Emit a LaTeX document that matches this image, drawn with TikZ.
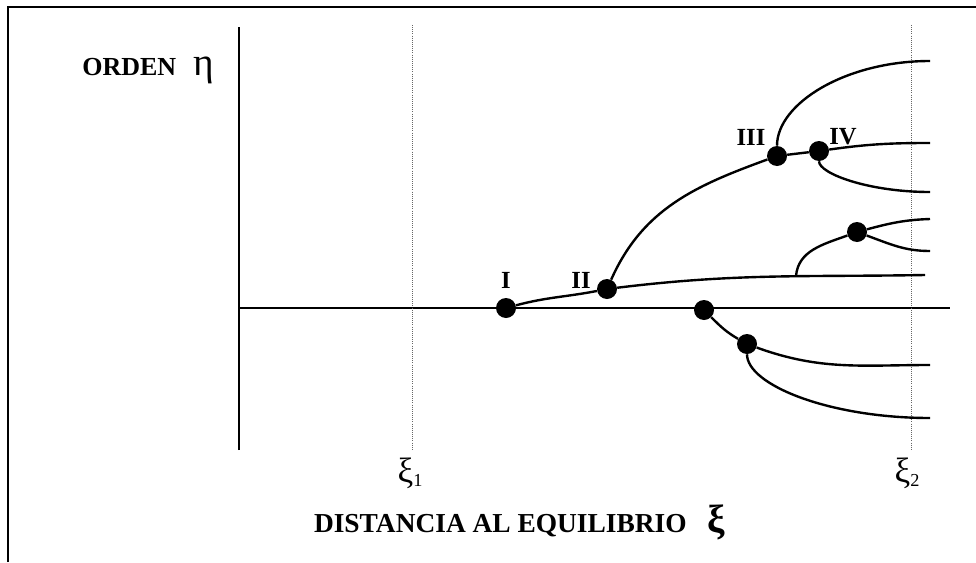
\documentclass[tikz,border=0pt]{standalone}
\usepackage{fontspec}
\setmainfont{Liberation Serif}
\begin{document}
\begin{tikzpicture}[
    dot/.style={circle,fill=black,inner sep=0pt,minimum size=0.5cm},
    branch/.style={line width=1.7pt},
    guide/.style={densely dotted,black!60,line width=0.5pt},
    lbl/.style={font=\bfseries\fontsize{17.5}{19}\selectfont,inner sep=0pt},
    xilbl/.style={font=\fontsize{25}{27}\selectfont,inner sep=0pt}]
            \useasboundingbox (-5.975,-6.35) rectangle (18.425,7.7);
            \coordinate (ftl) at (-5.775,7.525);
            \coordinate (ftr) at (18.425,7.525);
            \coordinate (fbl) at (-5.775,-6.35);
            \draw[line width=1.5pt] (fbl) -- (ftl) -- (ftr);
            \coordinate (o) at (0,0);
            \coordinate (vtop) at (0,7.025);
            \coordinate (vbot) at (0,-3.55);
            \coordinate (hend) at (17.775,0);
            \draw[branch] (vbot) -- (vtop);
            \draw[branch] (o) -- (hend);
            \coordinate (g1top) at (4.325,7.075);
            \coordinate (g1bot) at (4.325,-3.525);
            \coordinate (g2top) at (16.8,7.075);
            \coordinate (g2bot) at (16.8,-3.525);
            \draw[guide] (g1top) -- (g1bot);
            \draw[guide] (g2top) -- (g2bot);
            \node[dot] (pI) at (6.675,0) {};
            \node[dot] (pII) at (9.2,0.475) {};
            \node[dot] (pIII) at (13.45,3.8) {};
            \node[dot] (pIV) at (14.5,3.925) {};
            \node[dot] (pV) at (15.45,1.9) {};
            \node[dot] (pVI) at (11.625,-0.05) {};
            \node[dot] (pVII) at (12.7,-0.9) {};
            \coordinate (lowend) at (17.15,0.825);
            \coordinate (upend) at (17.275,4.125);
            \coordinate (topend) at (17.275,6.175);
            \coordinate (ivend) at (17.275,2.9);
            \coordinate (fork) at (13.925,0.8);
            \coordinate (vup) at (17.275,2.225);
            \coordinate (vlow) at (17.275,1.425);
            \coordinate (viiup) at (17.275,-1.425);
            \coordinate (viilow) at (17.275,-2.75);
            \draw[branch] (pI) to[out=15,in=191] (pII) to[out=7,in=181] (lowend);
            \draw[branch] (pII) to[out=66,in=200] (pIII) -- (pIV) to[out=8,in=180] (upend);
            \draw[branch] (pIII) .. controls (13.45,5.11) and (15.16,6.175) .. (topend);
            \draw[branch] (pIV) .. controls (14.5,3.36) and (15.74,2.9) .. (ivend);
            \draw[branch] (fork) to[out=85,in=200] (pV) to[out=15,in=182] (vup);
            \draw[branch] (pV) to[out=-20,in=180] (vlow);
            \draw[branch] (pVI) to[out=-45,in=150] (pVII) to[out=-20,in=180] (viiup);
            \draw[branch] (pVII) .. controls (12.7,-1.92) and (14.75,-2.75) .. (viilow);
            \node[lbl] (lI) at (6.675,0.7) {I};
            \node[lbl] (lII) at (8.55,0.7) {II};
            \node[lbl] (lIII) at (12.8,4.275) {III};
            \node[lbl] (lIV) at (15.1,4.275) {IV};
            \node[xilbl] (xione) at (4.275,-4.125) {ξ\raisebox{-0.12cm}{\fontsize{13}{13}\selectfont 1}};
            \node[xilbl] (xitwo) at (16.7,-4.125) {ξ\raisebox{-0.12cm}{\fontsize{13}{13}\selectfont 2}};
            \node[lbl,font=\bfseries\fontsize{18.5}{20}\selectfont,anchor=base west] (orden) at (-3.925,5.825) {ORDEN\hspace{0.42cm}{\mdseries\fontsize{28}{30}\selectfont η}};
            \node[lbl,font=\bfseries\fontsize{19.5}{21}\selectfont,anchor=base east] (distancia) at (11.2,-5.6) {DISTANCIA AL EQUILIBRIO};
            \node[lbl,font=\bfseries\fontsize{28}{30}\selectfont,anchor=base west] (xititle) at (11.7,-5.6) {ξ};
        \end{tikzpicture}
\end{document}
